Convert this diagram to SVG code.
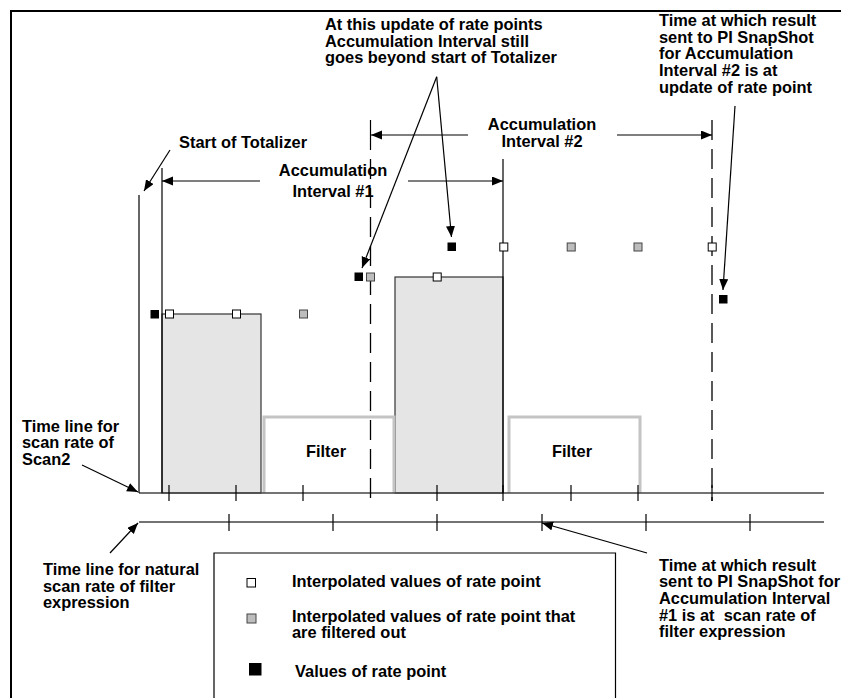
<svg xmlns="http://www.w3.org/2000/svg" width="841" height="698" viewBox="0 0 841 698">
  <defs>
    <style>
      text { font-family: "Liberation Sans", Arial, sans-serif; font-weight: bold; font-size: 16.4px; fill: #000; white-space: pre; }
      .mid { text-anchor: middle; }
      .frame { fill: none; stroke: #000; stroke-width: 2; }
      .ln { fill: none; stroke: #000; stroke-width: 1.2; }
      .axis { fill: none; stroke: #444; stroke-width: 1.5; }
      .tick { stroke: #000; stroke-width: 1.2; }
      .dash { fill: none; stroke: #000; stroke-width: 1.3; stroke-dasharray: 20 9; }
      .bar { fill: #e5e5e5; stroke: #333; stroke-width: 1.2; }
      .filter { fill: none; stroke: #c4c4c4; stroke-width: 3; }
      .ptw { fill: #fff; stroke: #000; stroke-width: 1; }
      .ptg { fill: #bdbdbd; stroke: #444; stroke-width: 1; }
      .ptb { fill: #000; }
      .arr { fill: none; stroke: #000; stroke-width: 1.2; marker-end: url(#head); }
    </style>
    <marker id="head" markerUnits="userSpaceOnUse" markerWidth="12" markerHeight="10" refX="11" refY="4.5" orient="auto">
      <path d="M0,0 L11,4.5 L0,9 Z" fill="#000"/>
    </marker>
  </defs>

  <rect width="841" height="698" fill="#fff"/>

  <!-- page frame (left and top edges) -->
  <path class="frame" d="M11,698 V11 H841"/>

  <!-- bars of the rate point -->
  <g id="bar1"><rect class="bar" x="162" y="314" width="99" height="179"/></g>
  <g id="bar2"><rect class="bar" x="395" y="277" width="108" height="216"/></g>

  <!-- filter windows -->
  <g id="filter1">
    <path class="filter" d="M264,493 V417 H394 V493"/>
    <text class="mid" x="326" y="457">Filter</text>
  </g>
  <g id="filter2">
    <path class="filter" d="M509,493 V417 H640 V493"/>
    <text class="mid" x="572" y="457">Filter</text>
  </g>

  <!-- time lines -->
  <g id="scan2-timeline">
    <line class="axis" x1="139" y1="493" x2="824" y2="493"/>
    <g class="tick">
      <line x1="169" y1="485" x2="169" y2="501"/>
      <line x1="236" y1="485" x2="236" y2="501"/>
      <line x1="303" y1="485" x2="303" y2="501"/>
      <line x1="437" y1="485" x2="437" y2="501"/>
      <line x1="503" y1="485" x2="503" y2="501"/>
      <line x1="571" y1="485" x2="571" y2="501"/>
      <line x1="638" y1="485" x2="638" y2="501"/>
      <line x1="712" y1="485" x2="712" y2="501"/>
    </g>
  </g>
  <g id="filter-timeline">
    <line class="axis" x1="139" y1="522" x2="824" y2="522"/>
    <g class="tick">
      <line x1="229" y1="514" x2="229" y2="531"/>
      <line x1="333" y1="514" x2="333" y2="531"/>
      <line x1="437" y1="514" x2="437" y2="531"/>
      <line x1="542" y1="514" x2="542" y2="531"/>
      <line x1="646" y1="514" x2="646" y2="531"/>
      <line x1="750" y1="514" x2="750" y2="531"/>
    </g>
  </g>

  <!-- interval boundaries -->
  <g id="boundaries">
    <line class="ln" x1="139" y1="195" x2="139" y2="493"/>
    <line class="ln" x1="162" y1="168" x2="162" y2="493"/>
    <line class="ln" x1="503" y1="159" x2="503" y2="493"/>
    <line class="ln" x1="370.5" y1="120" x2="370.5" y2="150"/>
    <line class="dash" x1="370.5" y1="159" x2="370.5" y2="501"/>
    <line class="dash" x1="712" y1="120" x2="712" y2="501"/>
  </g>

  <!-- rate point samples -->
  <g id="points">
    <rect class="ptb" x="150.5" y="310" width="8.5" height="8.5"/>
    <rect class="ptw" x="165.5" y="310" width="8" height="8"/>
    <rect class="ptw" x="232.5" y="310" width="8" height="8"/>
    <rect class="ptg" x="299.5" y="310" width="8" height="8"/>
    <rect class="ptb" x="354.5" y="272.5" width="8.5" height="8.5"/>
    <rect class="ptg" x="366.5" y="273" width="8" height="8"/>
    <rect class="ptw" x="433.2" y="273" width="8" height="8"/>
    <rect class="ptb" x="447.5" y="242.5" width="8.5" height="8.5"/>
    <rect class="ptw" x="499.8" y="243" width="8" height="8"/>
    <rect class="ptg" x="567.2" y="243" width="8" height="8"/>
    <rect class="ptg" x="634" y="243" width="8" height="8"/>
    <rect class="ptw" x="708.2" y="243" width="8" height="8"/>
    <rect class="ptb" x="719" y="295" width="8.5" height="8.5"/>
  </g>

  <!-- connectors -->
  <g id="connectors">
    <line class="arr" x1="260" y1="181" x2="162" y2="181"/>
    <line class="arr" x1="408" y1="181" x2="503" y2="181"/>
    <line class="arr" x1="468" y1="135" x2="371" y2="135"/>
    <line class="arr" x1="617" y1="135" x2="712" y2="135"/>
    <line class="arr" x1="170" y1="150" x2="144" y2="191"/>
    <line class="arr" x1="436.7" y1="76.7" x2="362" y2="268"/>
    <line class="arr" x1="436.7" y1="76.7" x2="451.5" y2="237"/>
    <line class="arr" x1="735" y1="106" x2="723" y2="290"/>
    <line class="arr" x1="82" y1="465" x2="138" y2="492"/>
    <line class="arr" x1="110" y1="553" x2="138" y2="523"/>
    <line class="arr" x1="647" y1="553" x2="542" y2="523"/>
  </g>

  <!-- labels -->
  <g id="label-start"><text x="179" y="148">Start of Totalizer</text></g>
  <g id="label-interval1">
    <text class="mid" x="333" y="176">Accumulation</text>
    <text class="mid" x="333" y="197">Interval #1</text>
  </g>
  <g id="label-interval2">
    <text class="mid" x="542" y="130">Accumulation</text>
    <text class="mid" x="542" y="147">Interval #2</text>
  </g>
  <g id="label-update">
    <text x="325" y="30">At this update of rate points</text>
    <text x="325" y="46.5">Accumulation Interval still</text>
    <text x="325" y="63">goes beyond start of Totalizer</text>
  </g>
  <g id="label-result2">
    <text x="659" y="26">Time at which result</text>
    <text x="659" y="42.7">sent to PI SnapShot</text>
    <text x="659" y="59.4">for Accumulation</text>
    <text x="659" y="76">Interval #2 is at</text>
    <text x="659" y="92.7">update of rate point</text>
  </g>
  <g id="label-scan2">
    <text x="22" y="431.7">Time line for</text>
    <text x="22" y="448.4">scan rate of</text>
    <text x="22" y="465">Scan2</text>
  </g>
  <g id="label-natural">
    <text x="43" y="575">Time line for natural</text>
    <text x="43" y="591.7">scan rate of filter</text>
    <text x="43" y="608.4">expression</text>
  </g>
  <g id="label-result1">
    <text x="659" y="570.5">Time at which result</text>
    <text x="659" y="587.2">sent to PI SnapShot for</text>
    <text x="659" y="603.9">Accumulation Interval</text>
    <text x="659" y="620.6">#1 is at  scan rate of</text>
    <text x="659" y="637.3">filter expression</text>
  </g>

  <!-- legend -->
  <g id="legend">
    <path fill="none" stroke="#000" stroke-width="1.2" d="M214,698 V553 H615.5 V698"/>
    <rect class="ptw" x="247" y="578.5" width="8.5" height="8.5"/>
    <text x="292" y="587">Interpolated values of rate point</text>
    <rect class="ptg" x="247" y="614" width="9" height="9"/>
    <text x="292" y="621.5">Interpolated values of rate point that</text>
    <text x="292" y="638">are filtered out</text>
    <rect class="ptb" x="249" y="663" width="12.5" height="12.5"/>
    <text x="295" y="676.5">Values of rate point</text>
  </g>
</svg>
